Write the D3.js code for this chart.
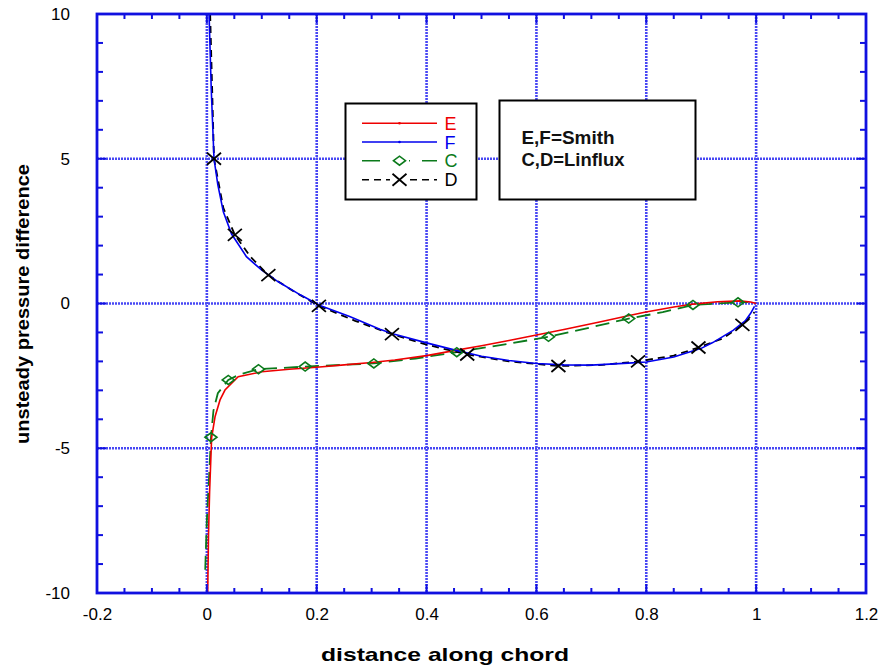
<!DOCTYPE html>
<html><head><meta charset="utf-8">
<script src="https://cdn.jsdelivr.net/npm/d3@7"></script>
<style>body{margin:0;background:#fff}svg{display:block}</style>
</head><body>
<script>
// ---- data ----
const xTicks = [-0.2, 0, 0.2, 0.4, 0.6, 0.8, 1, 1.2];
const yTicks = [-10, -5, 0, 5, 10];
const xTickLabels = ["-0.2", "0", "0.2", "0.4", "0.6", "0.8", "1", "1.2"];
const yTickLabels = ["-10", "-5", "0", "5", "10"];

// E (Smith, lower) red
const eX = [0.0015, 0.003, 0.005, 0.0087, 0.015, 0.024, 0.033, 0.057, 0.1, 0.15, 0.2, 0.25, 0.3, 0.342, 0.4, 0.455, 0.5, 0.55, 0.6, 0.65, 0.717, 0.767, 0.797, 0.85, 0.885, 0.93, 0.97, 0.99, 1.0];
const eY = [-10, -8, -6.5, -4.63, -3.9, -3.33, -2.99, -2.53, -2.36, -2.27, -2.2, -2.12, -2.04, -1.95, -1.8, -1.61, -1.46, -1.28, -1.09, -0.9, -0.63, -0.42, -0.3, -0.12, -0.02, 0.06, 0.09, 0.05, 0.0];
// F (Smith, upper) blue
const fX = [0.004, 0.008, 0.013, 0.02, 0.03, 0.045, 0.072, 0.1, 0.13, 0.17, 0.206, 0.26, 0.315, 0.34, 0.4, 0.452, 0.5, 0.55, 0.6, 0.65, 0.7, 0.767, 0.8, 0.85, 0.9, 0.921, 0.958, 0.98, 0.99, 0.997];
const fY = [10, 7.4, 5.0, 4.1, 3.17, 2.4, 1.62, 1.15, 0.75, 0.3, -0.07, -0.45, -0.89, -1.05, -1.36, -1.61, -1.82, -1.97, -2.07, -2.12, -2.13, -2.06, -2.02, -1.85, -1.55, -1.35, -0.93, -0.6, -0.34, -0.1];
// C (Linflux, lower) green dashed, diamonds
const cX = [-0.003, 0.0, 0.004, 0.0075, 0.012, 0.02, 0.039, 0.06, 0.094, 0.179, 0.304, 0.38, 0.455, 0.54, 0.622, 0.7, 0.768, 0.83, 0.885, 0.93, 0.967, 0.985];
const cY = [-9.2, -7.5, -6.0, -4.62, -3.7, -3.1, -2.64, -2.45, -2.27, -2.18, -2.07, -1.9, -1.68, -1.42, -1.15, -0.82, -0.52, -0.3, -0.05, 0.0, 0.04, 0.05];
const cMarkX = [0.0075, 0.039, 0.094, 0.179, 0.304, 0.455, 0.622, 0.768, 0.885, 0.967];
const cMarkY = [-4.62, -2.64, -2.27, -2.18, -2.07, -1.68, -1.15, -0.52, -0.05, 0.04];
// D (Linflux, upper) black dashed, crosses
const dX = [0.006, 0.013, 0.03, 0.051, 0.08, 0.112, 0.16, 0.204, 0.27, 0.337, 0.4, 0.474, 0.55, 0.64, 0.72, 0.785, 0.85, 0.895, 0.94, 0.975, 0.997];
const dY = [10, 5.0, 3.3, 2.37, 1.6, 0.98, 0.4, -0.08, -0.6, -1.06, -1.42, -1.76, -2.0, -2.16, -2.12, -2.0, -1.8, -1.52, -1.2, -0.74, -0.3];
const dMarkX = [0.013, 0.051, 0.112, 0.204, 0.337, 0.474, 0.64, 0.785, 0.895, 0.975];
const dMarkY = [5.0, 2.37, 0.98, -0.08, -1.06, -1.76, -2.16, -2.0, -1.52, -0.74];

const legendNames = ["E", "F", "C", "D"];
const noteLines = ["E,F=Smith", "C,D=Linflux"];

// ---- layout ----
const W = 878, H = 672;
const L = 97, R = 866, T = 14, B = 593;
const FONT = "'Liberation Sans', Arial, sans-serif";
const RED = "#ee0000", BLUE = "#0000ee", GREEN = "#0b7a1b", BLACK = "#000";
const AXIS = "#1010e0";

const svg = d3.select("body").append("svg").attr("width", W).attr("height", H);
const x = d3.scaleLinear().domain([-0.2, 1.2]).range([L, R]);
const y = d3.scaleLinear().domain([-10, 10]).range([B, T]);

// grid
const grid = svg.append("g");
grid.selectAll("line.gx").data(xTicks.filter(v => v > -0.2 && v < 1.2)).join("line")
  .attr("x1", d => x(d)).attr("x2", d => x(d)).attr("y1", T).attr("y2", B)
  .attr("stroke", "#4848f4").attr("stroke-width", 2.6).attr("stroke-dasharray", "2,1");
grid.selectAll("line.gy").data(yTicks.filter(v => v > -10 && v < 10)).join("line")
  .attr("y1", d => y(d)).attr("y2", d => y(d)).attr("x1", L).attr("x2", R)
  .attr("stroke", "#4848f4").attr("stroke-width", 2.6).attr("stroke-dasharray", "2,1");

// clip
svg.append("clipPath").attr("id", "clip").append("rect")
  .attr("x", L).attr("y", T).attr("width", R - L).attr("height", B - T);
const plot = svg.append("g").attr("clip-path", "url(#clip)");

const line = d3.line().x(d => x(d[0])).y(d => y(d[1]));
const zip = (a, b) => a.map((v, i) => [v, b[i]]);

plot.append("path").attr("d", line(zip(cX, cY))).attr("fill", "none")
  .attr("stroke", GREEN).attr("stroke-width", 1.8).attr("stroke-dasharray", "14,7");
plot.append("path").attr("d", line(zip(eX, eY))).attr("fill", "none")
  .attr("stroke", RED).attr("stroke-width", 1.6);
plot.append("path").attr("d", line(zip(dX, dY))).attr("fill", "none")
  .attr("stroke", BLACK).attr("stroke-width", 1.8).attr("stroke-dasharray", "7,5");
plot.append("path").attr("d", line(zip(fX, fY))).attr("fill", "none")
  .attr("stroke", BLUE).attr("stroke-width", 1.6);

function diamond(g, cx, cy) {
  g.append("path").attr("d", `M${cx - 6},${cy}L${cx},${cy - 4.5}L${cx + 6},${cy}L${cx},${cy + 4.5}Z`)
    .attr("fill", "none").attr("stroke", GREEN).attr("stroke-width", 1.6);
}
function cross(g, cx, cy) {
  g.append("path").attr("d", `M${cx - 7},${cy - 6}L${cx + 7},${cy + 6}M${cx - 7},${cy + 6}L${cx + 7},${cy - 6}`)
    .attr("fill", "none").attr("stroke", BLACK).attr("stroke-width", 1.8);
}
zip(cMarkX, cMarkY).forEach(p => diamond(plot, x(p[0]), y(p[1])));
zip(dMarkX, dMarkY).forEach(p => cross(plot, x(p[0]), y(p[1])));

// legend box 1
const lg = svg.append("g");
lg.append("rect").attr("x", 345.5).attr("y", 103.5).attr("width", 131).attr("height", 96)
  .attr("fill", "#fff").attr("stroke", "#000").attr("stroke-width", 2);
const legY = [123.3, 142, 160.7, 179.7];
const legCol = [RED, BLUE, GREEN, BLACK];
const legDash = [null, null, "18,12", "7,5"];
legendNames.forEach((n, i) => {
  const ly = legY[i];
  const ln = lg.append("line").attr("x1", 362).attr("x2", 437).attr("y1", ly).attr("y2", ly)
    .attr("stroke", legCol[i]).attr("stroke-width", 1.6);
  if (legDash[i]) ln.attr("stroke-dasharray", legDash[i]);
  if (i < 2) lg.append("circle").attr("cx", 399.5).attr("cy", ly).attr("r", 1.3).attr("fill", legCol[i]);
  if (i === 2) { lg.append("rect").attr("x", 390).attr("y", ly - 6).attr("width", 19).attr("height", 12).attr("fill", "#fff"); diamond(lg, 399.5, ly); }
  if (i === 3) { lg.append("rect").attr("x", 390).attr("y", ly - 6).attr("width", 19).attr("height", 12).attr("fill", "#fff"); cross(lg, 399.5, ly); }
  lg.append("text").attr("x", 444.5).attr("y", ly + 6.5).text(n)
    .attr("font-family", FONT).attr("font-size", 18).attr("fill", legCol[i]);
});

// note box
svg.append("rect").attr("x", 499.5).attr("y", 100.5).attr("width", 196).attr("height", 99)
  .attr("fill", "#fff").attr("stroke", "#000").attr("stroke-width", 2);
const noteLen = [93, 103];
noteLines.forEach((t, i) => {
  svg.append("text").attr("x", 521.5).attr("y", 144 + i * 22).text(t)
    .attr("font-family", FONT).attr("font-size", 18).attr("font-weight", "bold").attr("fill", "#111")
    .attr("textLength", noteLen[i]).attr("lengthAdjust", "spacingAndGlyphs");
});

// frame + ticks
const fr = svg.append("g").attr("stroke", AXIS);
const xMinor = d3.range(-0.2, 1.2001, 0.05).map(v => +v.toFixed(2));
const yMinor = d3.range(-10, 10.001, 1);
xMinor.forEach(v => {
  const major = xTicks.some(t => Math.abs(t - v) < 1e-6);
  const len = major ? 9 : 5;
  fr.append("line").attr("x1", x(v)).attr("x2", x(v)).attr("y1", B).attr("y2", B - len).attr("stroke-width", 2);
  fr.append("line").attr("x1", x(v)).attr("x2", x(v)).attr("y1", T).attr("y2", T + len).attr("stroke-width", 2);
});
yMinor.forEach(v => {
  const major = yTicks.some(t => Math.abs(t - v) < 1e-6);
  const len = major ? 9 : 6;
  fr.append("line").attr("y1", y(v)).attr("y2", y(v)).attr("x1", L).attr("x2", L + len).attr("stroke-width", 2);
  fr.append("line").attr("y1", y(v)).attr("y2", y(v)).attr("x1", R).attr("x2", R - len).attr("stroke-width", 2);
});
fr.append("rect").attr("x", L).attr("y", T).attr("width", R - L).attr("height", B - T)
  .attr("fill", "none").attr("stroke-width", 2.8);

// tick labels via axes
const xAxis = d3.axisBottom(x).tickValues(xTicks).tickSize(0).tickPadding(15)
  .tickFormat((d, i) => xTickLabels[i]);
const gx = svg.append("g").attr("transform", `translate(0,${B})`).call(xAxis);
gx.select(".domain").remove();
gx.selectAll("text").attr("font-family", FONT).attr("font-size", 17).attr("fill", "#000");

const yAxis = d3.axisLeft(y).tickValues(yTicks).tickSize(0).tickPadding(27)
  .tickFormat((d, i) => yTickLabels[i]);
const gy = svg.append("g").attr("transform", `translate(${L},0)`).call(yAxis);
gy.select(".domain").remove();
gy.selectAll("text").attr("font-family", FONT).attr("font-size", 17).attr("fill", "#000");

// axis titles
svg.append("text").attr("x", 445).attr("y", 661).attr("text-anchor", "middle")
  .attr("font-family", FONT).attr("font-size", 19).attr("font-weight", "bold")
  .attr("textLength", 248).attr("lengthAdjust", "spacingAndGlyphs")
  .text("distance along chord");
svg.append("text").attr("transform", "translate(29,304) rotate(-90)").attr("text-anchor", "middle")
  .attr("font-family", FONT).attr("font-size", 19).attr("font-weight", "bold")
  .attr("textLength", 280).attr("lengthAdjust", "spacingAndGlyphs")
  .text("unsteady pressure difference");
</script>
</body></html>
